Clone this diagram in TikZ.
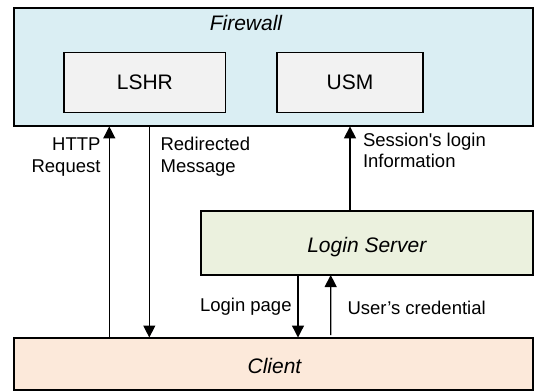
\documentclass[tikz,border=0pt]{standalone}
\usepackage{fontspec}
\setmainfont{Liberation Sans}
\usetikzlibrary{arrows.meta}
\definecolor{fwblue}{HTML}{DAEEF3}
\definecolor{boxgray}{HTML}{F2F2F2}
\definecolor{lsgreen}{HTML}{EBF1DE}
\definecolor{clpeach}{HTML}{FCE9DA}
\newcommand\boxfont{\fontsize{21}{25}\selectfont}
\newcommand\lblfont{\fontsize{18.5}{22}\selectfont}
\tikzset{
  bigbox/.style={draw=black, line width=2pt, inner sep=0pt, outer sep=0pt},
  smallbox/.style={draw=black, line width=1.3pt, fill=boxgray, inner sep=0pt, outer sep=0pt, font=\boxfont},
  boxtext/.style={inner sep=0pt, anchor=base, font=\boxfont\itshape},
  lbl/.style={inner sep=0pt, font=\lblfont},
  arr/.style={line width=1.3pt, -{Triangle[length=12pt,width=12pt]}}
}
\begin{document}
\begin{tikzpicture}[x=1pt,y=-1pt]
\useasboundingbox (0,0) rectangle (535,391);
% boxes
\node[bigbox, fill=fwblue, minimum width=519pt, minimum height=118pt] (fw) at (273.5,67.4) {};
\node[boxtext] (fwtxt) at (246,30) {Firewall};
\node[smallbox, minimum width=161.7pt, minimum height=60pt] (lshr) at (144.85,82.7) {LSHR};
\node[smallbox, minimum width=146pt, minimum height=60pt] (usm) at (350,82.7) {USM};
\node[bigbox, fill=lsgreen, minimum width=332.3pt, minimum height=64pt] (ls) at (366.85,243) {};
\node[boxtext] (lstxt) at (366.85,252) {Login Server};
\node[bigbox, fill=clpeach, minimum width=519pt, minimum height=52.5pt] (cl) at (273.5,363.75) {};
\node[boxtext] (cltxt) at (274.5,373.3) {Client};
% connectors
\draw[arr] ([xshift=95.3pt]cl.north west) -- ([xshift=95.3pt]fw.south west);
\draw[arr] ([xshift=135.3pt]fw.south west) -- ([xshift=135.3pt]cl.north west);
\draw[arr] ([xshift=149.3pt]ls.north west) -- ([xshift=336pt]fw.south west);
\draw[arr] ([xshift=97.3pt]ls.south west) -- ([xshift=284pt]cl.north west);
\draw[arr] ([xshift=316.7pt,yshift=2.5pt]cl.north west) -- ([xshift=130pt]ls.south west);
% labels
\node[lbl, anchor=base east, align=right] (l1) at (100.7,172.7) {HTTP\\Request};
\node[lbl, anchor=base west, align=left] (l2) at (160.4,172.7) {Redirected\\Message};
\node[lbl, anchor=base west, align=left] (l3) at (362.8,167.3) {Session\textquotesingle s login\\[-1pt]Information};
\node[lbl, anchor=base east] (l4) at (291.8,311.7) {Login page};
\node[lbl, anchor=base west] (l5) at (347.4,314) {User’s credential};
\end{tikzpicture}
\end{document}
